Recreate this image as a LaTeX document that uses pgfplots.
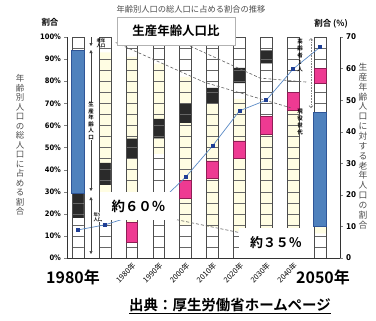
\documentclass[border=0pt]{standalone}
\usepackage{pgfplots}
\pgfplotsset{compat=1.18}
\usepackage{pgfplotstable}
\usetikzlibrary{arrows.meta}
\usepackage{fontspec}
\newfontfamily\jp{Noto Sans CJK JP}[BoldFont={Noto Sans CJK JP Bold}]
\newfontfamily\tk{DejaVu Sans Condensed}
\definecolor{yel}{HTML}{FFFDE3}
\definecolor{pinkC}{HTML}{EE3A92}
\definecolor{pinkD}{HTML}{8E1E55}
\definecolor{blk}{HTML}{2A2A2A}
\definecolor{blueF}{HTML}{4F81BD}
\definecolor{blueD}{HTML}{2F5597}
\definecolor{lineC}{HTML}{5A8AC6}
\definecolor{markC}{HTML}{1F3F95}

\pgfplotstableread{
x W1 P1 Y1 P2 Y2 B1 Y3 W2 B2 W3 P3 W4
0 18 0 0 0 0 11.4 64.6 6 0 0 0 0
1 29 0 4 0 0 10 50 7 0 0 0 0
2 7 9 29 0 0 9 37 9 0 0 0 0
3 47 0 7 0 0 9 25 12 0 0 0 0
4 15 0 12 8 26 9 12 18 0 0 0 0
5 14 0 22 8 26 7 0 23 0 0 0 0
6 12 0 33 8 19 0 0 7 7 14 0 0
7 13 0 43 8 0 0 0 24 6 6 0 0
8 13 0 54 8 0 0 0 25 0 0 0 0
9 11 0 55 0 0 0 0 13 0 0 7 14
}\bars

\pgfplotsset{base/.style={at={(0,0)}, anchor=south west, scale only axis,
  width=273bp, height=221bp, xmin=-0.41, xmax=9.74, ymin=0, ymax=100}}

\begin{document}
\begin{tikzpicture}[x=1bp,y=1bp]
\useasboundingbox (-67,-63) rectangle (309,258);

% colored segments
\begin{axis}[base, hide axis, ybar stacked, bar width=0.44]
\addplot[fill=white, draw=none] table[x=x,y=W1]{\bars};
\addplot[fill=pinkC, draw=none] table[x=x,y=P1]{\bars};
\addplot[fill=yel, draw=none] table[x=x,y=Y1]{\bars};
\addplot[fill=pinkC, draw=none] table[x=x,y=P2]{\bars};
\addplot[fill=yel, draw=none] table[x=x,y=Y2]{\bars};
\addplot[fill=blk, draw=none] table[x=x,y=B1]{\bars};
\addplot[fill=yel, draw=none] table[x=x,y=Y3]{\bars};
\addplot[fill=white, draw=none] table[x=x,y=W2]{\bars};
\addplot[fill=blk, draw=none] table[x=x,y=B2]{\bars};
\addplot[fill=white, draw=none] table[x=x,y=W3]{\bars};
\addplot[fill=pinkC, draw=none] table[x=x,y=P3]{\bars};
\addplot[fill=white, draw=none] table[x=x,y=W4]{\bars};
\end{axis}

% cell lines, outlines, overlays
\begin{axis}[base, axis line style={draw=none}, tick style={draw=none},
  xtick=\empty, ytick={5,10,...,95}, yticklabels={}, ymajorgrids,
  grid style={black!60, line width=0.4pt}]
\addplot[ybar, bar width=0.56, bar shift=0pt, fill=white, draw=none]
  coordinates {(-0.5,100)(0.5,100)(1.5,100)(2.5,100)(3.5,100)(4.5,100)(5.5,100)(6.5,100)(7.5,100)(8.5,100)(9.5,100)};
\addplot[ybar, bar width=0.44, bar shift=0pt, fill=none, draw=black!70, line width=0.5pt]
  coordinates {(0,100)(1,100)(2,100)(3,100)(4,100)(5,100)(6,100)(7,100)(8,100)(9,100)};
% pink blocks
\addplot[fill=pinkC, draw=pinkD, line width=0.5pt] coordinates {(1.78,7)(2.22,7)(2.22,16)(1.78,16)} -- cycle;
\addplot[fill=pinkC, draw=pinkD, line width=0.5pt] coordinates {(3.78,27)(4.22,27)(4.22,35)(3.78,35)} -- cycle;
\addplot[fill=pinkC, draw=pinkD, line width=0.5pt] coordinates {(4.78,36)(5.22,36)(5.22,44)(4.78,44)} -- cycle;
\addplot[fill=pinkC, draw=pinkD, line width=0.5pt] coordinates {(5.78,45)(6.22,45)(6.22,53)(5.78,53)} -- cycle;
\addplot[fill=pinkC, draw=pinkD, line width=0.5pt] coordinates {(6.78,56)(7.22,56)(7.22,64)(6.78,64)} -- cycle;
\addplot[fill=pinkC, draw=pinkD, line width=0.5pt] coordinates {(7.78,67)(8.22,67)(8.22,75)(7.78,75)} -- cycle;
\addplot[fill=pinkC, draw=pinkD, line width=0.5pt] coordinates {(8.78,79)(9.22,79)(9.22,86)(8.78,86)} -- cycle;
% blue bars
\addplot[fill=blueF, draw=blueD, line width=1pt] coordinates {(-0.24,29.4)(0.24,29.4)(0.24,94)(-0.24,94)} -- cycle;
\addplot[fill=blueF, draw=blueD, line width=1pt] coordinates {(8.76,14.3)(9.24,14.3)(9.24,65.7)(8.76,65.7)} -- cycle;
% dashed guide lines
\addplot[gray!75!black, line width=0.6pt, dash pattern=on 3bp off 2bp] coordinates {(3.5,99.6)(6.77,81.4)(8.5,79.6)};
\addplot[gray!75!black, line width=0.6pt, dash pattern=on 3bp off 2bp] coordinates {(1.4,97.5)(4.7,79.5)(7.9,68)};
\addplot[gray!75!black, line width=0.6pt, dash pattern=on 3bp off 2bp] coordinates {(2.2,21)(6.4,10.5)};
\end{axis}

% left and bottom axis
\begin{axis}[base, axis x line*=bottom, axis y line*=left,
  xtick={0,...,9},
  xticklabels={,,1980年,1990年,2000年,2010年,2020年,2030年,2040年,},
  xtick style={draw=none},
  xticklabel style={font=\jp\fontsize{7.5}{8}\selectfont, rotate=45, anchor=north east, inner sep=1bp},
  ytick={0,10,...,100},
  yticklabels={0\%,10\%,20\%,30\%,40\%,50\%,60\%,70\%,80\%,90\%,100\%},
  yticklabel style={font=\tk\bfseries\fontsize{7.5}{8}\selectfont},
  tick align=outside, major tick length=2.5bp,
  axis line style={black!80, line width=0.6pt}]
\addplot[draw=none] coordinates {(0,0)};
\end{axis}

% right axis with ratio line
\begin{axis}[base, ymax=70, axis y line*=right, axis x line=none,
  ytick={0,10,...,70}, yticklabels={0,10,20,30,40,50,60,70},
  yticklabel style={font=\tk\bfseries\fontsize{8}{9}\selectfont},
  tick align=outside, major tick length=2.5bp,
  axis line style={black!80, line width=0.6pt}]
\addplot[lineC, line width=0.7pt, mark=square*, mark size=1.5pt, mark options={fill=markC, draw=markC}]
  coordinates {(0,8.9)(1,10.5)(2,13.2)(3,17.5)(4,25.6)(5,35.5)(6,46.6)(7,50)(8,59.9)(9,66.8)};
\end{axis}

% texts
\node[font=\jp\fontsize{8.3}{9}\selectfont, text=gray!60!black] at (124,249) {年齢別人口の総人口に占める割合の推移};
\node[draw=gray!60, fill=white, line width=0.6pt, minimum width=118bp, minimum height=28bp,
  font=\jp\bfseries\fontsize{12.5}{14}\selectfont] at (109,227) {生産年齢人口比};
\node[font=\jp\bfseries\fontsize{8.5}{9}\selectfont] at (-17,236) {割合};
\node[font=\jp\bfseries\fontsize{8.5}{9}\selectfont] at (264,234) {割合 (\%)};
\node[font=\jp\fontsize{8.5}{9.5}\selectfont, text=gray!60!black, align=center] at (-47,113)
  {年\\齢\\別\\人\\口\\の\\総\\人\\口\\に\\占\\め\\る\\割\\合};
\node[font=\jp\fontsize{8.8}{9.9}\selectfont, text=gray!60!black, align=center] at (296,112)
  {生\\産\\年\\齢\\人\\口\\に\\対\\す\\る\\老\\年\\人\\口\\の\\割\\合};

% left dimension arrows
\draw[black!75, line width=0.5pt, -{Triangle[length=3bp,width=3bp]}] (24,221) -- (24,212);
\draw[black!75, line width=0.5pt, {Triangle[length=3bp,width=3bp]}-{Triangle[length=3bp,width=3bp]}] (24,208) -- (24,67);
\draw[black!75, line width=0.5pt, {Triangle[length=3bp,width=3bp]}-{Triangle[length=3bp,width=3bp]}] (24,61) -- (24,4);
\node[fill=white, inner sep=0.5bp, font=\jp\bfseries\fontsize{5.5}{6.5}\selectfont, align=center] at (24,137) {生\\産\\年\\齢\\人\\口};
\node[fill=white, inner sep=0.3bp, font=\jp\bfseries\fontsize{4.5}{5}\selectfont, align=center] at (31,41) {年少\\人口};
\node[inner sep=0.3bp, font=\jp\bfseries\fontsize{4.5}{5}\selectfont, align=center] at (34,215) {老年\\人口};

% right annotation
\node[font=\jp\bfseries\fontsize{5.5}{7}\selectfont, align=center] at (233,203) {高\\齢\\者\\1\\人};
\node[font=\jp\bfseries\fontsize{5.5}{7}\selectfont, align=center] at (233,136) {現\\役\\世\\代};
\draw[gray, densely dotted, line width=0.6pt, {Straight Barb[length=2bp]}-{Straight Barb[length=2bp]}] (244,220) -- (244,150);

% big labels
\node[fill=white, minimum width=77bp, minimum height=28bp, font=\jp\bfseries\fontsize{13.5}{15}\selectfont] at (71.5,52) {約６０％};
\node[fill=white, minimum width=74bp, minimum height=30bp, font=\jp\bfseries\fontsize{13}{15}\selectfont] at (209,15) {約３５％};
\node[fill=white, inner sep=1bp, font=\jp\bfseries\fontsize{16}{18}\selectfont] at (6,-19) {1980年};
\node[fill=white, inner sep=1bp, font=\jp\bfseries\fontsize{16}{18}\selectfont] at (256,-19) {2050年};
\node[font=\jp\bfseries\fontsize{14.5}{16}\selectfont] at (163,-48) {\underline{出典：厚生労働省ホームページ}};
\end{tikzpicture}
\end{document}
